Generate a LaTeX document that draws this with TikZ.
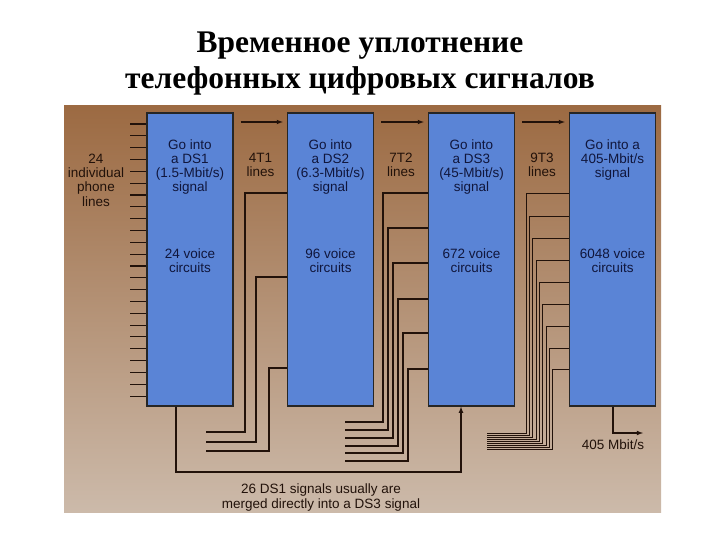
\documentclass[tikz,border=0pt]{standalone}
\usepackage{fontspec}
\setmainfont{Liberation Serif}
\setsansfont{Liberation Sans}
\usetikzlibrary{arrows}

\definecolor{bgtop}{RGB}{156,106,66}
\definecolor{bgmid}{RGB}{184,150,120}
\definecolor{bgbot}{RGB}{204,186,170}
\definecolor{muxblue}{RGB}{90,132,214}
\definecolor{navy}{RGB}{16,22,60}
\definecolor{wirebrown}{RGB}{34,18,10}

\tikzset{
  mux/.style={draw=black!85, line width=1.3pt, fill=muxblue, minimum width=86pt, minimum height=293pt, inner sep=0pt},
  boxtext/.style={align=center, text=navy, font=\sffamily\fontsize{13.5}{14.3}\selectfont},
  labeltext/.style={align=center, text=wirebrown, font=\sffamily\fontsize{13.5}{14.3}\selectfont},
  wire/.style={draw=wirebrown, line width=1.1pt},
  feed/.style={wire, ->, shorten <=7pt, shorten >=4pt},
  title/.style={align=center, font=\bfseries\fontsize{31.5}{36}\selectfont}
}

\begin{document}
\begin{tikzpicture}[x=1pt,y=-1pt,>=latex]
\useasboundingbox (0,0) rectangle (720,540);

% title
\node[title] (head) at (360,64) {Временное уплотнение\\телефонных цифровых сигналов};

% picture background
\shade[top color=bgtop, middle color=bgmid, bottom color=bgbot] (64,106) rectangle (661,512);

% multiplexer boxes
\node[mux] (ds1) at (190,259.5) {};
\node[mux] (ds2) at (330.5,259.5) {};
\node[mux] (ds3) at (471.5,259.5) {};
\node[mux] (ds4) at (612.5,259.5) {};

\node[boxtext] (ds1top) at (190,167) {Go into\\a DS1\\(1.5-Mbit/s)\\signal};
\node[boxtext] (ds2top) at (330.5,167) {Go into\\a DS2\\(6.3-Mbit/s)\\signal};
\node[boxtext] (ds3top) at (471.5,167) {Go into\\a DS3\\(45-Mbit/s)\\signal};
\node[boxtext] (ds4top) at (612.5,160) {Go into a\\405-Mbit/s\\signal};

\node[boxtext] (ds1cap) at (190,261) {24 voice\\circuits};
\node[boxtext] (ds2cap) at (330.5,261) {96 voice\\circuits};
\node[boxtext] (ds3cap) at (471.5,261) {672 voice\\circuits};
\node[boxtext] (ds4cap) at (612.5,261) {6048 voice\\circuits};

% phone lines into DS1
\node[labeltext] (phones) at (96,180) {24\\individual\\phone\\lines};
\foreach \i [evaluate=\i as \y using 124+11.83*\i] in {0,...,23}
  \draw[wire] (130,\y) -- (ds1.west |- 0,\y);

% trunk labels and top arrows
\node[labeltext] (t1) at (260.5,165) {4T1\\lines};
\node[labeltext] (t2) at (401,165) {7T2\\lines};
\node[labeltext] (t3) at (542,165) {9T3\\lines};
\draw[feed] (ds1.east |- 0,122) -- (ds2.west |- 0,122);
\draw[feed] (ds2.east |- 0,122) -- (ds3.west |- 0,122);
\draw[feed] (ds3.east |- 0,122) -- (ds4.west |- 0,122);

% other T1 lines into DS2
\foreach \vx/\ey/\by in {245/193/432, 256/277/442, 269/368/451}
  \draw[wire] (206,\by) -| (\vx,\ey) -- (ds2.west |- 0,\ey);

% other T2 lines into DS3
\foreach \vx/\ey/\by in {383/193/422, 388/228/430, 393/263/438, 398/299/446, 403/333/453, 408/369/461}
  \draw[wire] (345,\by) -| (\vx,\ey) -- (ds3.west |- 0,\ey);

% other T3 lines into the 405 Mbit/s box
\foreach \vx/\ey/\by in {526/193/433, 529/216/435, 532/238/437, 536/260/439, 539/282/441, 542/304/443, 546/326/445, 549/348/447, 552/369/449}
  \draw[wire, line width=0.9pt] (487,\by) -| (\vx,\ey) -- (ds4.west |- 0,\ey);

% DS1 straight into DS3
\coordinate (merge) at (461,472);
\draw[wire, ->] (ds1.south -| 176,0) |- (merge) -- (ds3.south -| merge);
\node[labeltext] (mergenote) at (321,497.5) {26 DS1 signals usually are\\merged directly into a DS3 signal};

% output
\coordinate (out) at (643,433);
\draw[wire, ->] (ds4.south -| 613,0) |- (out);
\node[labeltext] (outrate) at (613,445) {405 Mbit/s};

\end{tikzpicture}
\end{document}
